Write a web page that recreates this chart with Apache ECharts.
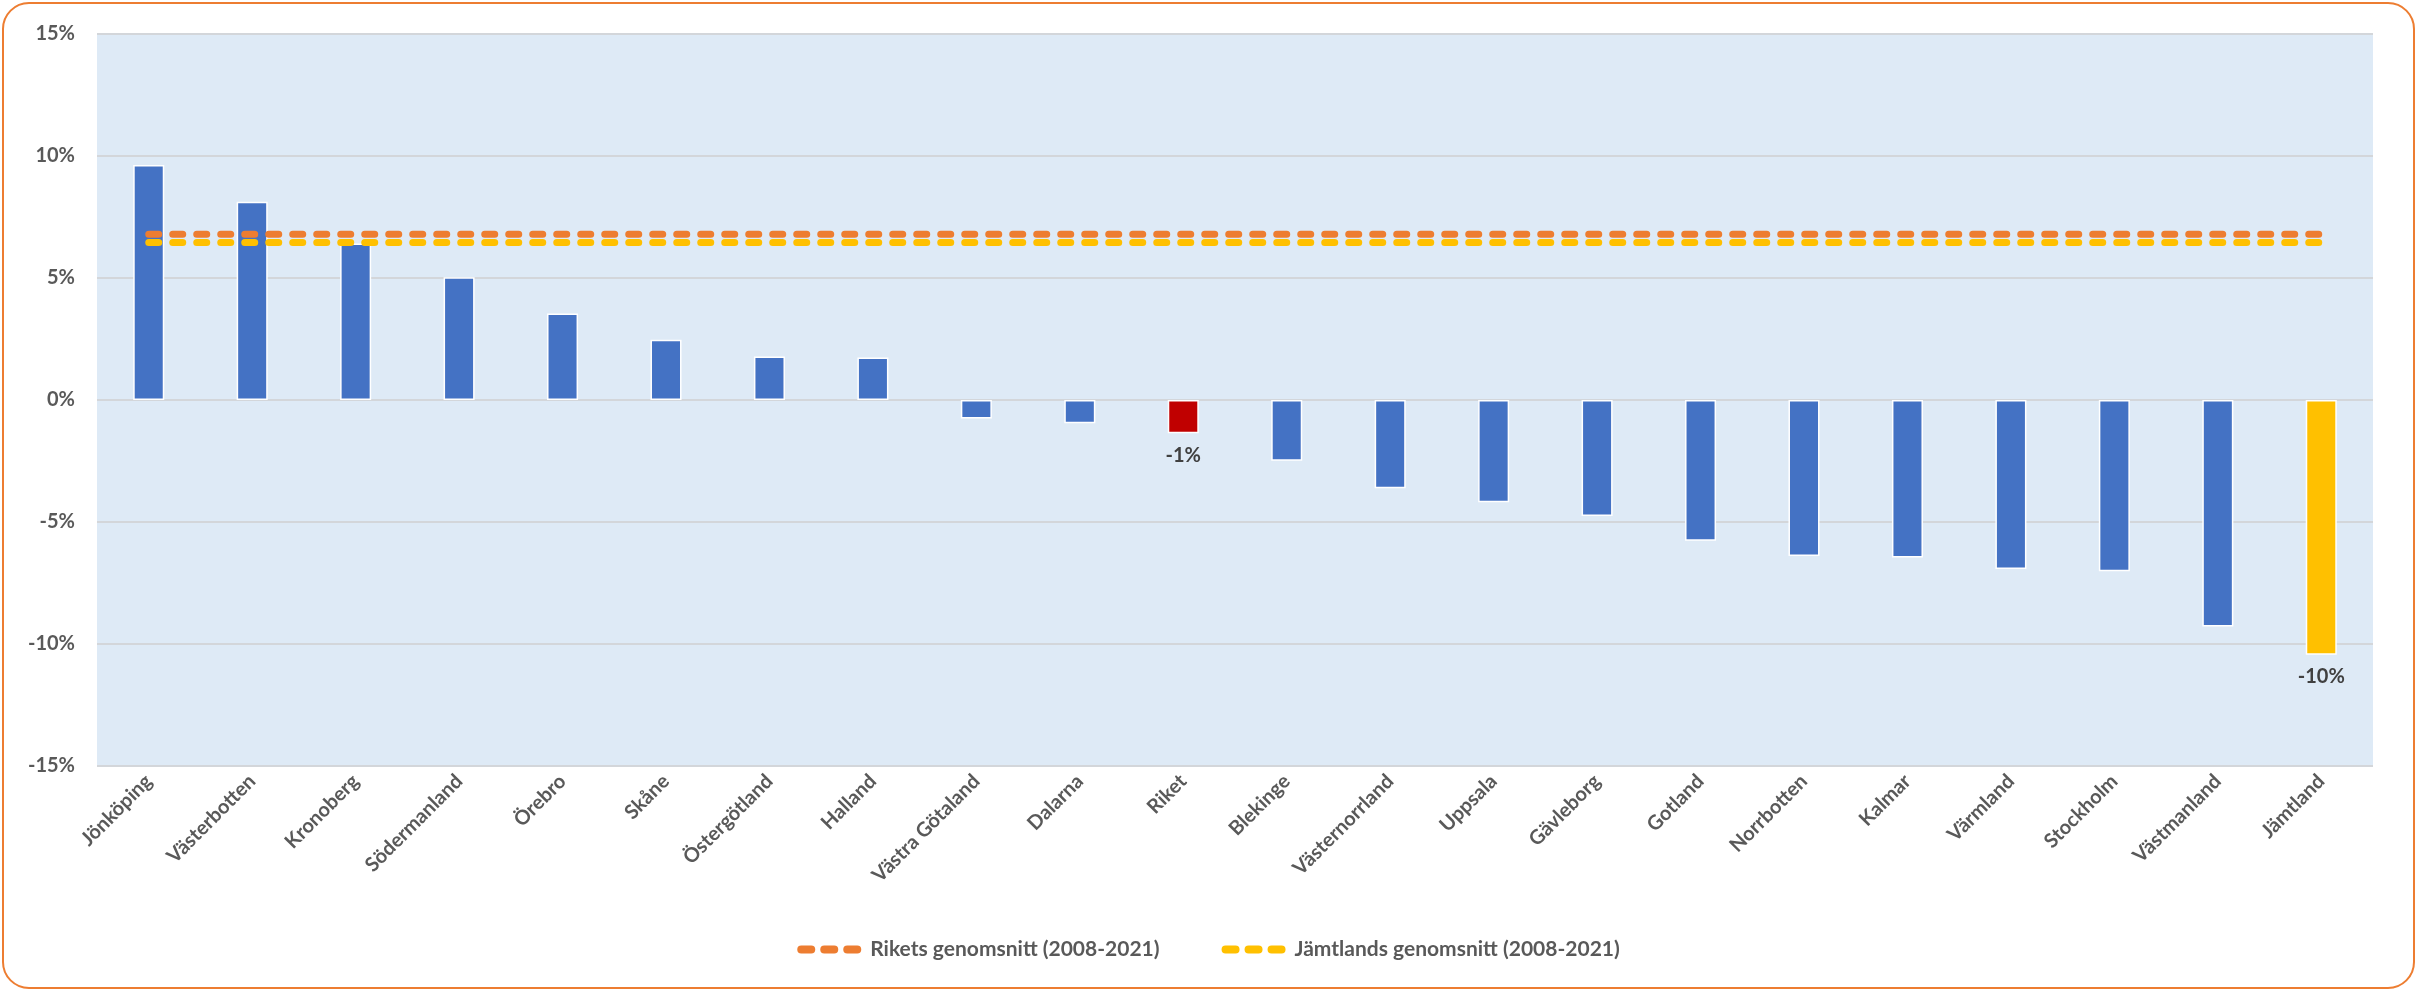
<!DOCTYPE html>
<html>
<head>
<meta charset="utf-8">
<script src="https://cdn.jsdelivr.net/npm/echarts@6/dist/echarts.min.js"></script>
<style>
html,body{margin:0;padding:0;background:#fff;}
#chart{width:2417px;height:991px;}
</style>
</head>
<body>
<div id="chart"></div>
<script>
const categories = ["Jönköping","Västerbotten","Kronoberg","Södermanland","Örebro","Skåne","Östergötland","Halland","Västra Götaland","Dalarna","Riket","Blekinge","Västernorrland","Uppsala","Gävleborg","Gotland","Norrbotten","Kalmar","Värmland","Stockholm","Västmanland","Jämtland"];
const changeValues = [9.63,8.12,6.41,5.03,3.55,2.47,1.78,1.74,-0.76,-0.95,-1.36,-2.49,-3.62,-4.19,-4.75,-5.77,-6.39,-6.46,-6.93,-7.02,-9.28,-10.44];
const riketsAvg = [6.79,6.79,6.79,6.79,6.79,6.79,6.79,6.79,6.79,6.79,6.79,6.79,6.79,6.79,6.79,6.79,6.79,6.79,6.79,6.79,6.79,6.79];
const jamtlandsAvg = [6.45,6.45,6.45,6.45,6.45,6.45,6.45,6.45,6.45,6.45,6.45,6.45,6.45,6.45,6.45,6.45,6.45,6.45,6.45,6.45,6.45,6.45];
const yTicks = {min:-15, max:15, interval:5};
const seriesNames = ["Rikets genomsnitt (2008-2021)","Jämtlands genomsnitt (2008-2021)"];
const labelled = ["Riket","Jämtland"];

const FONT = 'Lato';
const barColors = {Riket:'#C00000', Jämtland:'#FFC000'};
const dashIcon = 'path://M4,0H14A4,4 0 0 1 14,8H4A4,4 0 0 1 4,0Z M27,0H37A4,4 0 0 1 37,8H27A4,4 0 0 1 27,0Z M50,0H60A4,4 0 0 1 60,8H50A4,4 0 0 1 50,0Z';

const barData = categories.map((c,i)=>{
  const item = {value: changeValues[i], itemStyle:{color: barColors[c] || '#4472C4'}};
  if (labelled.indexOf(c) >= 0) {
    item.label = {show:true, position:'bottom', distance:12,
      formatter: p => Math.round(p.value) + '%',
      color:'#404040', fontWeight:'bold', fontSize:20, fontFamily:FONT};
  }
  return item;
});

const chart = echarts.init(document.getElementById('chart'), null, {renderer:'canvas'});
chart.setOption({
  animation:false,
  backgroundColor:'#ffffff',
  graphic:[{type:'rect', z:-10, shape:{x:3,y:3,width:2411,height:985,r:26},
    style:{fill:'none', stroke:'#ED7D31', lineWidth:2}}],
  grid:{left:97, right:44, top:34, bottom:225, show:true, backgroundColor:'#DEEAF6', borderWidth:0},
  legend:{
    data: seriesNames.map((n,i)=>({name:n, icon:dashIcon, itemStyle:{color: i===0 ? '#ED7D31' : '#FFC000'}})),
    bottom: 26,
    left:'center',
    itemWidth:64, itemHeight:8, itemGap:62,
    itemStyle:{borderWidth:0},
    textStyle:{color:'#595959', fontSize:21, fontWeight:'bold', fontFamily:FONT, padding:[0,0,0,4]}
  },
  xAxis:{
    type:'category',
    data:categories,
    axisLine:{show:false, onZero:false},
    axisTick:{show:false},
    axisLabel:{rotate:45, interval:0, margin:12, color:'#595959', fontSize:20, fontWeight:'bold', fontFamily:FONT}
  },
  yAxis:{
    type:'value',
    min:yTicks.min, max:yTicks.max, interval:yTicks.interval,
    axisLine:{show:false}, axisTick:{show:false},
    splitLine:{lineStyle:{color:'#D3D6DA', width:2}},
    axisLabel:{formatter:'{value}%', margin:22, color:'#595959', fontSize:20, fontWeight:'bold', fontFamily:FONT}
  },
  series:[
    {type:'bar', name:'Förändring', data:barData, barWidth:'30%',
      itemStyle:{borderColor:'#ffffff', borderWidth:1.5}, z:2},
    {type:'line', name:seriesNames[0], data:riketsAvg, symbol:'none', z:3,
      itemStyle:{color:'#ED7D31'},
      lineStyle:{color:'#ED7D31', width:7, type:[10,14], cap:'round'}},
    {type:'line', name:seriesNames[1], data:jamtlandsAvg, symbol:'none', z:3,
      itemStyle:{color:'#FFC000'},
      lineStyle:{color:'#FFC000', width:7, type:[10,14], cap:'round'}}
  ]
});
</script>
</body>
</html>
